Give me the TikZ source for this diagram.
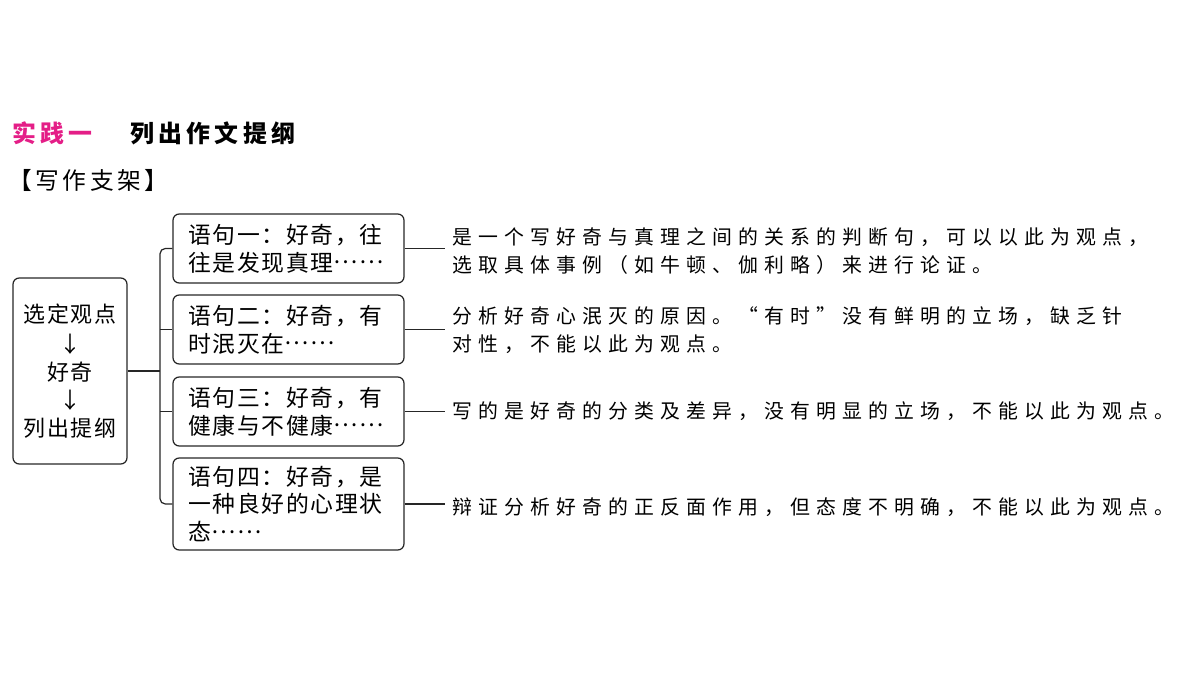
\documentclass[tikz,border=0pt]{standalone}
\usepackage{fontspec}
\newfontfamily\cjk{Noto Sans CJK SC}
\newfontfamily\cjktitle[LetterSpace=18]{Noto Sans CJK SC}
\newfontfamily\cjkhead[LetterSpace=15]{Noto Sans CJK SC}
\newfontfamily\cjkbox[LetterSpace=7,RawFeature={+fwid}]{Noto Sans CJK SC}
\newfontfamily\cjkleft[LetterSpace=9]{Noto Sans CJK SC}
\newfontfamily\cjkwide[LetterSpace=31,RawFeature={+fwid}]{Noto Sans CJK SC}
\definecolor{titlepink}{RGB}{228,30,135}
\newcommand\midell{\raisebox{0.33em}{……}}

\begin{document}
\begin{tikzpicture}[x=0.02cm,y=-0.02cm,
  conn/.style={draw=black!85, line width=0.7pt},
  sentbox/.style={draw=black!85, line width=0.7pt, rounded corners=3.5pt,
    text width=4.0cm, inner xsep=0.31cm, minimum height=1.38cm, align=left,
    font=\cjkbox\fontsize{13}{15.9}\selectfont},
  comment/.style={anchor=west, inner xsep=4pt, inner ysep=0pt, align=left,
    font=\cjkwide\fontsize{11.3}{15.9}\selectfont}]

  \useasboundingbox (0,0) rectangle (1200,675);

  % Titres
  \node[anchor=west, inner sep=0pt, font=\cjktitle\bfseries\fontsize{13.6}{16}\selectfont, titlepink]
    (practice) at (12,133) {实践一};
  \node[anchor=west, inner sep=0pt, font=\cjktitle\bfseries\fontsize{13.6}{16}\selectfont]
    (task) at (130,133) {列出作文提纲};
  \node[anchor=west, inner sep=0pt, font=\cjkhead\fontsize{13.5}{16}\selectfont]
    (frame) at (8,180) {【写作支架】};

  %观点
  \node[draw=black!85, line width=0.7pt, rounded corners=3.5pt, minimum width=2.28cm,
    minimum height=3.72cm, align=center, inner sep=2pt,
    font=\cjkleft\fontsize{12.5}{15.9}\selectfont]
    (pick) at (70,371) {选定观点\\[1pt]↓\\好奇\\↓\\列出提纲};

  % 语句
  \node[sentbox] (s1) at (288.5,248.5) {语句一：好奇，往\\往是发现真理\midell};
  \node[sentbox] (s2) at (288.5,329.5) {语句二：好奇，有\\时泯灭在\midell};
  \node[sentbox] (s3) at (288.5,411.5) {语句三：好奇，有\\健康与不健康\midell};
  \node[sentbox, minimum height=1.84cm] (s4) at (288.5,504) {语句四：好奇，是\\一种良好的心理状\\态\midell};

  % 分析
  \node[comment] (c1) at (445,251) {是一个写好奇与真理之间的关系的判断句，可以以此为观点，\\选取具体事例（如牛顿、伽利略）来进行论证。};
  \node[comment] (c2) at (445,330.5) {分析好奇心泯灭的原因。“有时”没有鲜明的立场，缺乏针\\对性，不能以此为观点。};
  \node[comment] (c3) at (445,411) {写的是好奇的分类及差异，没有明显的立场，不能以此为观点。};
  \node[comment] (c4) at (445,507) {辩证分析好奇的正反面作用，但态度不明确，不能以此为观点。};

  % 连线
  \coordinate (spine) at (160,371);
  \draw[conn] (pick.east) -- (spine);
  \draw[conn, rounded corners=3pt] (s1.west) -| (spine) |- (s4.west);
  \draw[conn] (s2.west) -- (s2.west -| spine);
  \draw[conn] (s3.west) -- (s3.west -| spine);
  \foreach \i in {1,...,4}
    \draw[conn] (s\i.east) -- (s\i.east -| c\i.west);

\end{tikzpicture}
\end{document}
